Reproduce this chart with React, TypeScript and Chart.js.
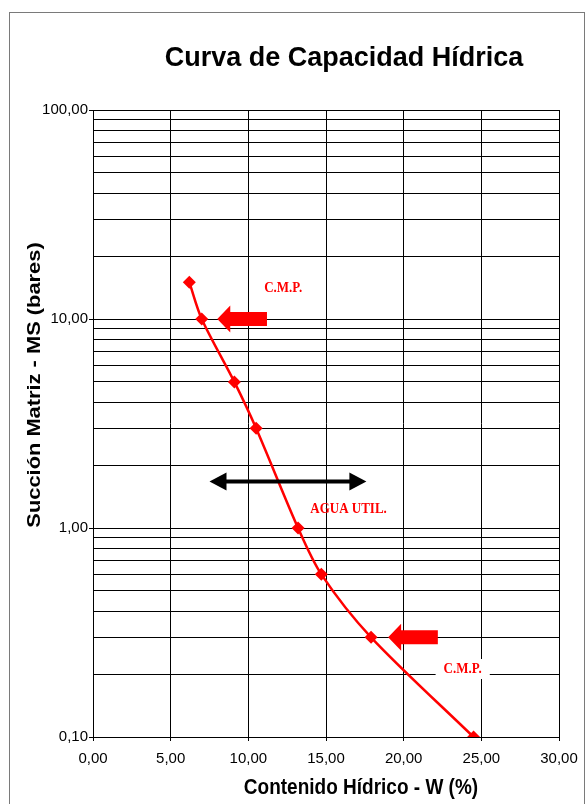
import React, { useEffect, useRef } from 'react';
import { Chart, registerables } from 'chart.js';

Chart.register(...registerables);

// ---- text ----
const chartTitle = 'Curva de Capacidad Hídrica';
const xAxisTitle = 'Contenido Hídrico - W (%)';
const yAxisTitle = 'Succión Matriz - MS (bares)';

// ---- data ----
const waterContent = [6.2, 7.0, 9.1, 10.5, 13.2, 14.7, 17.9, 24.5];
const suction = [15, 10, 5, 3, 1, 0.6, 0.3, 0.1];

// ---- ticks ----
const xTickValues = [0, 5, 10, 15, 20, 25, 30];
const yGridValues = [
  0.1, 0.2, 0.3, 0.4, 0.5, 0.6, 0.7, 0.8, 0.9,
  1, 2, 3, 4, 5, 6, 7, 8, 9,
  10, 20, 30, 40, 50, 60, 70, 80, 90, 100,
];
const yLabelValues = [0.1, 1, 10, 100];

// ---- annotations (data coordinates) ----
const blockArrowTipX = [8.0, 19.0];
const blockArrowTipY = [10, 0.3];
const blockArrowTailX = [11.2, 22.2];
const rangeArrowX = [7.5, 17.6];
const rangeArrowY = 1.67;
const noteTexts = ['C.M.P.', 'AGUA UTIL.', 'C.M.P.'];
const noteX = [12.25, 16.45, 23.8];
const noteY = [14.1, 1.23, 0.2115];
const noteBoxed = [false, false, true];

const fmt = (v: number) => v.toFixed(2).replace('.', ',');
const SANS = "'Liberation Sans', Arial, Helvetica, sans-serif";
const SERIF = "'Liberation Serif', 'Times New Roman', serif";

function drawText(
  ctx: CanvasRenderingContext2D,
  text: string,
  x: number,
  y: number,
  font: string,
  color: string,
  sx = 1,
  sy = 1,
  rot = 0
) {
  ctx.save();
  ctx.translate(x, y);
  if (rot) ctx.rotate(rot);
  ctx.scale(sx, sy);
  ctx.font = font;
  ctx.fillStyle = color;
  ctx.textAlign = 'center';
  ctx.textBaseline = 'middle';
  ctx.fillText(text, 0, 0);
  ctx.restore();
}

const decorPlugin = {
  id: 'decor',
  beforeDraw(chart: any) {
    const ctx = chart.ctx as CanvasRenderingContext2D;
    ctx.save();
    ctx.fillStyle = '#ffffff';
    ctx.fillRect(0, 0, chart.width, chart.height);
    ctx.strokeStyle = '#7a7a7a';
    ctx.lineWidth = 1;
    ctx.strokeRect(9.5, 12.5, 575, 820);
    ctx.restore();
  },
  beforeDatasetsDraw(chart: any) {
    const ctx = chart.ctx as CanvasRenderingContext2D;
    const xs = chart.scales.x;
    const ys = chart.scales.y;
    ctx.save();
    ctx.font = `bold 13px ${SERIF}`;
    noteTexts.forEach((t, i) => {
      if (!noteBoxed[i]) return;
      const cx = xs.getPixelForValue(noteX[i]);
      const cy = ys.getPixelForValue(noteY[i]);
      const w = ctx.measureText(t).width + 16;
      ctx.fillStyle = '#ffffff';
      ctx.fillRect(cx - w / 2, cy - 10, w, 20);
    });
    ctx.restore();
  },
  afterDatasetsDraw(chart: any) {
    const ctx = chart.ctx as CanvasRenderingContext2D;
    const xs = chart.scales.x;
    const ys = chart.scales.y;
    ctx.save();
    // red block arrows
    ctx.fillStyle = '#ff0000';
    blockArrowTipX.forEach((tx0, i) => {
      const tx = xs.getPixelForValue(tx0);
      const ty = ys.getPixelForValue(blockArrowTipY[i]);
      const tail = xs.getPixelForValue(blockArrowTailX[i]);
      const hl = 13, hh = 13.5, sh = 7;
      ctx.beginPath();
      ctx.moveTo(tx, ty);
      ctx.lineTo(tx + hl, ty - hh);
      ctx.lineTo(tx + hl, ty - sh);
      ctx.lineTo(tail, ty - sh);
      ctx.lineTo(tail, ty + sh);
      ctx.lineTo(tx + hl, ty + sh);
      ctx.lineTo(tx + hl, ty + hh);
      ctx.closePath();
      ctx.fill();
    });
    // black double arrow
    const x1 = xs.getPixelForValue(rangeArrowX[0]);
    const x2 = xs.getPixelForValue(rangeArrowX[1]);
    const ay = ys.getPixelForValue(rangeArrowY);
    ctx.fillStyle = '#000000';
    ctx.strokeStyle = '#000000';
    ctx.lineWidth = 4;
    ctx.beginPath();
    ctx.moveTo(x1 + 10, ay);
    ctx.lineTo(x2 - 10, ay);
    ctx.stroke();
    const hl = 17, hh = 9;
    ctx.beginPath();
    ctx.moveTo(x1, ay);
    ctx.lineTo(x1 + hl, ay - hh);
    ctx.lineTo(x1 + hl, ay + hh);
    ctx.closePath();
    ctx.fill();
    ctx.beginPath();
    ctx.moveTo(x2, ay);
    ctx.lineTo(x2 - hl, ay - hh);
    ctx.lineTo(x2 - hl, ay + hh);
    ctx.closePath();
    ctx.fill();
    ctx.restore();

    // notes
    noteTexts.forEach((t, i) => {
      drawText(
        ctx,
        t,
        xs.getPixelForValue(noteX[i]),
        ys.getPixelForValue(noteY[i]),
        `bold 13px ${SERIF}`,
        '#ff0000',
        1,
        1.12
      );
    });

    // titles
    drawText(ctx, chartTitle, 344, 58, `bold 27px ${SANS}`, '#000000', 1, 1.05);
    drawText(ctx, xAxisTitle, 361, 788, `bold 19px ${SANS}`, '#000000', 1, 1.15);
    drawText(ctx, yAxisTitle, 35, 385, `bold 19px ${SANS}`, '#000000', 1.15, 1, -Math.PI / 2);
  },
};

export default function App() {
  const canvasRef = useRef<HTMLCanvasElement | null>(null);

  useEffect(() => {
    const canvas = canvasRef.current;
    if (!canvas) return;
    const chart = new Chart(canvas, {
      type: 'line',
      data: {
        datasets: [
          {
            data: waterContent.map((x, i) => ({ x, y: suction[i] })),
            borderColor: '#ff0000',
            backgroundColor: '#ff0000',
            borderWidth: 2.5,
            pointStyle: 'rectRot',
            pointRadius: 6.5,
            pointBorderWidth: 0,
            pointBackgroundColor: '#ff0000',
            tension: 0.3,
            fill: false,
          },
        ],
      },
      options: {
        animation: false,
        responsive: false,
        devicePixelRatio: 1,
        events: [],
        layout: { padding: { left: 0, top: 110, right: 28, bottom: 0 } },
        plugins: {
          legend: { display: false },
          title: { display: false },
          tooltip: { enabled: false },
        },
        scales: {
          x: {
            type: 'linear',
            min: 0,
            max: 30,
            afterBuildTicks: (scale: any) => {
              scale.ticks = xTickValues.map((v) => ({ value: v }));
            },
            afterFit: (scale: any) => {
              scale.height = 67;
            },
            ticks: {
              autoSkip: false,
              maxRotation: 0,
              padding: 9,
              color: '#000000',
              font: { family: SANS, size: 15 },
              callback: (v: any) => fmt(Number(v)),
            },
            grid: {
              color: '#000000',
              lineWidth: 1,
              tickLength: 4,
              tickColor: '#000000',
            },
            border: { color: '#000000', width: 1 },
          },
          y: {
            type: 'logarithmic',
            min: 0.1,
            max: 100,
            afterBuildTicks: (scale: any) => {
              scale.ticks = yGridValues.map((v) => ({
                value: v,
                major: yLabelValues.includes(v),
              }));
            },
            afterFit: (scale: any) => {
              scale.width = 93;
            },
            ticks: {
              autoSkip: false,
              padding: 1,
              color: '#000000',
              font: { family: SANS, size: 15 },
              callback: (v: any) => (yLabelValues.includes(Number(v)) ? fmt(Number(v)) : ''),
            },
            grid: {
              color: '#000000',
              lineWidth: 1,
              tickLength: 4,
              tickColor: (c: any) =>
                c.tick && yLabelValues.includes(c.tick.value) ? '#000000' : 'rgba(0,0,0,0)',
            },
            border: { color: '#000000', width: 1 },
          },
        },
      },
      plugins: [decorPlugin],
    } as any);
    return () => chart.destroy();
  }, []);

  return (
    <div style={{ position: 'fixed', left: 0, top: 0, width: 587, height: 804, background: '#fff' }}>
      <canvas ref={canvasRef} width={587} height={804} style={{ display: 'block' }} />
    </div>
  );
}
